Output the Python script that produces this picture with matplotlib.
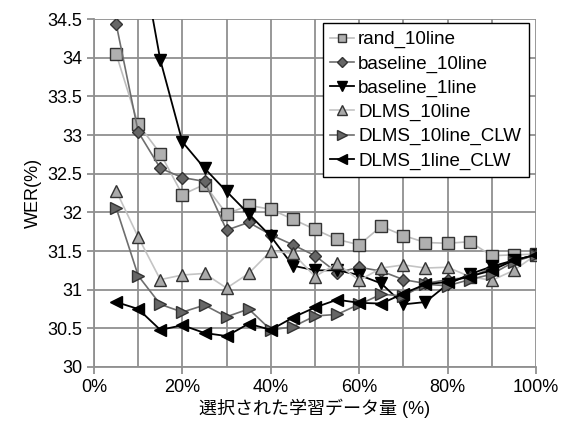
import matplotlib.pyplot as plt
from matplotlib.ticker import MultipleLocator, FuncFormatter

plt.rcParams['font.family'] = ['Liberation Sans', 'Noto Sans CJK JP', 'DejaVu Sans']

# percentage of selected training data
pct = [5, 10, 15, 20, 25, 30, 35, 40, 45, 50, 55, 60, 65, 70, 75, 80, 85, 90, 95, 100]
pct_b1 = pct[1:]

rand_10line = [34.05, 33.14, 32.76, 32.23, 32.36, 31.98, 32.09, 32.04, 31.91, 31.78,
               31.65, 31.58, 31.82, 31.70, 31.61, 31.60, 31.62, 31.44, 31.45, 31.46]
baseline_10line = [34.44, 33.04, 32.57, 32.45, 32.40, 31.77, 31.87, 31.71, 31.58, 31.44,
                   31.22, 31.29, 31.24, 31.13, 31.08, 31.13, 31.16, 31.28, 31.38, 31.45]
baseline_1line = [35.55, 33.97, 32.91, 32.57, 32.27, 31.98, 31.69, 31.31, 31.25,
                  31.25, 31.19, 31.08, 30.81, 30.84, 31.07, 31.20, 31.30, 31.38, 31.45]
dlms_10line = [32.28, 31.68, 31.13, 31.19, 31.21, 31.02, 31.21, 31.50, 31.47, 31.17,
               31.34, 31.12, 31.28, 31.32, 31.28, 31.29, 31.17, 31.12, 31.25, 31.45]
dlms_10line_clw = [32.06, 31.18, 30.81, 30.71, 30.80, 30.65, 30.75, 30.48, 30.52, 30.66,
                   30.68, 30.81, 30.94, 30.92, 31.07, 31.05, 31.13, 31.20, 31.36, 31.45]
dlms_1line_clw = [30.84, 30.75, 30.48, 30.54, 30.44, 30.40, 30.56, 30.48, 30.64, 30.77,
                  30.87, 30.83, 30.82, 30.95, 31.07, 31.10, 31.17, 31.25, 31.38, 31.45]

fig = plt.figure(figsize=(5.61, 4.23), dpi=100)
ax = fig.add_axes([0.1676, 0.1324, 0.7878, 0.8226])

ax.plot(pct, rand_10line, color='#bdbdbd', lw=1.2, marker='s', ms=8,
        mfc='#b0b0b0', mec='#333333', mew=1, label='rand_10line')
ax.plot(pct, baseline_10line, color='#6e6e6e', lw=1.2, marker='D', ms=6.5,
        mfc='#666666', mec='#333333', mew=1, label='baseline_10line')
ax.plot(pct_b1, baseline_1line, color='black', lw=1.3, marker='v', ms=9,
        mfc='black', mec='black', label='baseline_1line')
ax.plot(pct, dlms_10line, color='#c4c4c4', lw=1.2, marker='^', ms=9,
        mfc='#aaaaaa', mec='#333333', mew=1, label='DLMS_10line')
ax.plot(pct, dlms_10line_clw, color='#6e6e6e', lw=1.2, marker='>', ms=9,
        mfc='#666666', mec='#333333', mew=1, label='DLMS_10line_CLW')
ax.plot(pct, dlms_1line_clw, color='black', lw=1.3, marker='<', ms=9,
        mfc='black', mec='black', label='DLMS_1line_CLW')

ax.set_xlim(0, 100)
ax.set_ylim(30, 34.5)
ax.xaxis.set_major_locator(MultipleLocator(20))
ax.xaxis.set_minor_locator(MultipleLocator(10))
ax.yaxis.set_major_locator(MultipleLocator(0.5))
ax.xaxis.set_major_formatter(FuncFormatter(lambda v, p: '%d%%' % v))
ax.yaxis.set_major_formatter(FuncFormatter(lambda v, p: '%g' % v))
ax.grid(True, which='both', color='#909090', lw=1.3)
ax.set_axisbelow(True)
ax.tick_params(axis='both', labelsize=13, color='#909090', length=5, width=1.3)
ax.tick_params(axis='x', which='minor', length=0)
for s in ['top', 'right']:
    ax.spines[s].set_visible(False)
for s in ['left', 'bottom']:
    ax.spines[s].set_color('#909090')
    ax.spines[s].set_linewidth(1.3)

ax.set_ylabel('WER(%)', fontsize=13, labelpad=4)
ax.set_xlabel('選択された学習データ量 (%)', fontsize=13, labelpad=2)

leg = ax.legend(loc='upper right', fontsize=13.5, handlelength=1.3, handletextpad=0.2,
                labelspacing=0.37, borderpad=0.4, borderaxespad=0.2, fancybox=False,
                framealpha=1, edgecolor='black', markerscale=0.75,
                bbox_to_anchor=(0.992, 0.998))
leg.get_frame().set_linewidth(1.0)

fig.savefig('out.png', dpi=100)
